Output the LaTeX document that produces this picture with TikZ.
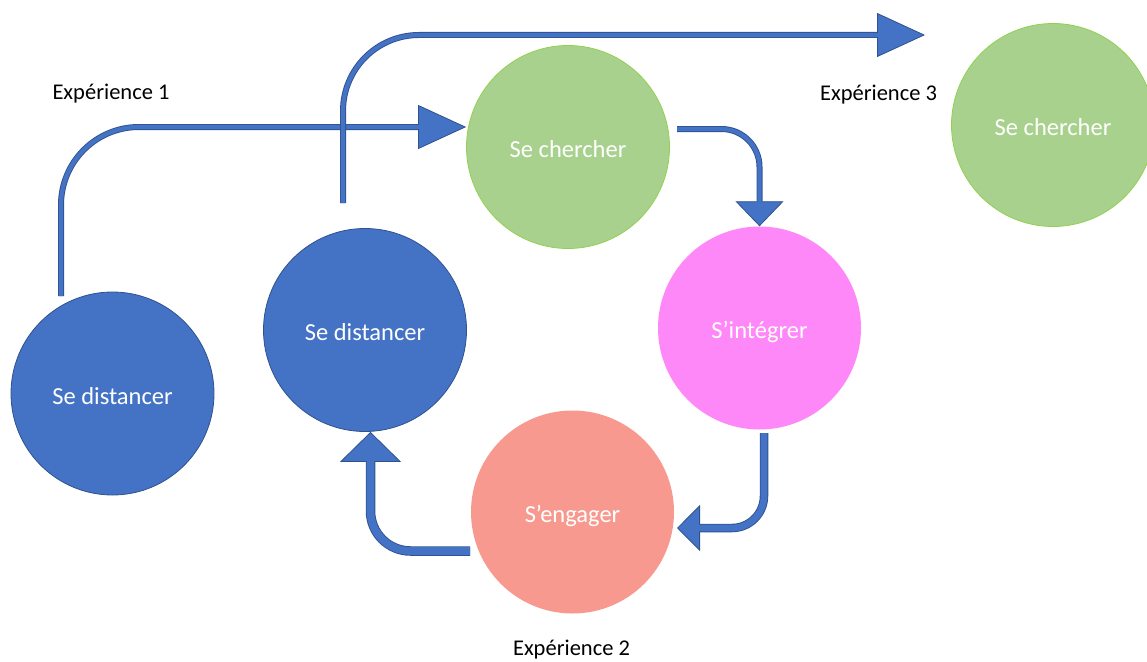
\documentclass[tikz,border=0pt]{standalone}
\usepackage{fontspec}
\setmainfont{Carlito}
\usepackage{tikz}
\usetikzlibrary{arrows.meta, positioning}
\definecolor{distblue}{HTML}{4472C4}
\definecolor{distedge}{HTML}{2F528F}
\definecolor{chgreen}{HTML}{A9D18E}
\definecolor{chedge}{HTML}{92D050}
\definecolor{intpink}{HTML}{FF88F8}
\definecolor{engsalmon}{HTML}{F8998F}
\tikzstyle{stage} = [circle, minimum size=203pt, inner sep=0pt, text=white, text height=21pt, text depth=0pt, font=\fontsize{24.5}{29}\selectfont]
\tikzstyle{exp} = [inner sep=0pt, font=\fontsize{22.5}{27}\selectfont]
\tikzset{
  flow/.style n args={3}{draw=distedge, line width=#1,
    -{Triangle[length=#2, width=#3, fill=distblue, line width=0.8pt]},
    postaction={draw=distblue, line width=#1-1.8pt, -, shorten >=#2-1pt}},
}

\begin{document}
\begin{tikzpicture}[x=1pt, y=-1pt]
        \useasboundingbox (0,0) rectangle (1147,661);
        % les cercles
        \node[stage, fill=distblue, draw=distedge, line width=0.8pt] (dist1) at (112.5,393.5) {Se distancer};
        \node[stage, fill=distblue, draw=distedge, line width=0.8pt] (dist2) at (365,330) {Se distancer};
        \node[stage, fill=chgreen, draw=chedge, line width=0.8pt] (cherch1) at (568,147) {Se chercher};
        \node[stage, fill=intpink] (integ) at (759.5,328) {S’intégrer};
        \node[stage, fill=engsalmon] (engag) at (572.5,512) {S’engager};
        \node[stage, fill=chgreen, draw=chedge, line width=0.8pt] (cherch2) at (1053,125) {Se chercher};
        % les experiences
        \node[exp] (exp1) at (111,94) {Expérience 1};
        \node[exp] (exp2) at (571.5,650) {Expérience 2};
        \node[exp] (exp3) at (878.5,95) {Expérience 3};
        % bouts libres
        \coordinate (s1) at (61,296);
        \coordinate (s2) at (343,203);
        \coordinate (e2) at (925,35);
        \coordinate (s3) at (677,129);
        \coordinate (s4) at (764,433);
        \coordinate (e4) at (677,528);
        \coordinate (s5) at (470,551);
        % les fleches
        \draw[flow={6pt}{48pt}{44pt}, rounded corners=78pt] (s1) |- ([yshift=20pt]cherch1.west);
        \draw[flow={6pt}{48pt}{44pt}, rounded corners=76pt] (s2) |- (e2);
        \draw[flow={6pt}{25pt}{48pt}, rounded corners=38pt] (s3) -| (integ.north);
        \draw[flow={8.5pt}{23pt}{46pt}, rounded corners=32pt] (s4) |- (e4);
        \draw[flow={9.5pt}{30pt}{61pt}, rounded corners=40pt] (s5) -| ([xshift=5.5pt]dist2.south);
      \end{tikzpicture}
\end{document}
